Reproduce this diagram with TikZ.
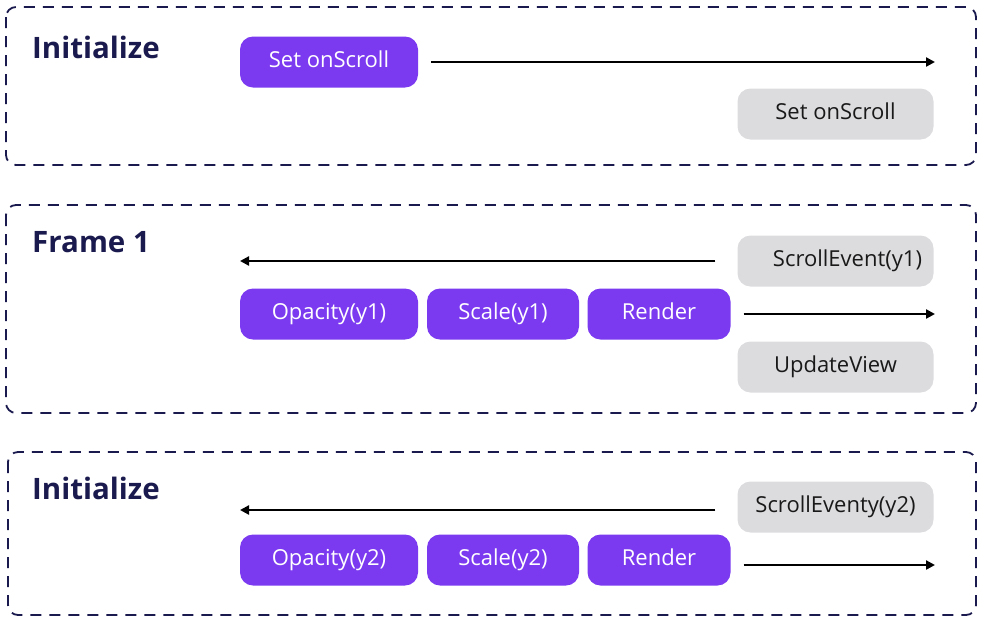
\documentclass[tikz,border=0pt]{standalone}
\usepackage{fontspec}
\setmainfont{Open Sans}
\usetikzlibrary{arrows.meta}
\definecolor{pur}{HTML}{7B3AF0}
\definecolor{gry}{HTML}{DCDCDF}
\definecolor{navy}{HTML}{1B1A4E}
\tikzset{
  pbox/.style={fill=pur, rounded corners=13pt, text=white, minimum height=51pt, inner sep=0pt, text height=16pt, text depth=5pt, font=\fontsize{22}{26}\selectfont},
  gbox/.style={fill=gry, rounded corners=13pt, text=black!90, minimum height=51pt, minimum width=196pt, inner sep=0pt, text height=16pt, text depth=5pt, font=\fontsize{22}{26}\selectfont},
  frame/.style={draw=navy, line width=1.8pt, dash pattern=on 11pt off 8pt, rounded corners=10pt},
  ttl/.style={anchor=base west, text=navy, inner sep=0pt, font=\fontsize{29.5}{34}\selectfont\bfseries},
  arr/.style={line width=2.4pt, -{Triangle[length=9pt,width=9pt]}}
}
\begin{document}
\begin{tikzpicture}[x=1pt,y=-1pt]
\useasboundingbox (0,0) rectangle (992,625);
% frames
\draw[frame] (6,7) rectangle (976,165);
\draw[frame] (6,205) rectangle (976,413);
\draw[frame] (8,452) rectangle (976,615);
% titles
\node[ttl] (t1) at (32,58) {Initialize};
\node[ttl] (t2) at (32,252) {Frame 1};
\node[ttl] (t3) at (32,499) {Initialize};
% section 1
\node[pbox, minimum width=178pt] (s1) at (329,62) {Set onScroll};
\node[gbox] (g1) at (835.5,114) {Set onScroll};
\coordinate (e1) at (935,62);
\draw[arr] (s1.east) ++(13,0) coordinate (b1) -- (e1);
% section 2
\node[gbox] (g2) at (835.5,261) {\hspace*{24pt}ScrollEvent(y1)};
\node[pbox, minimum width=178pt] (o1) at (329,314) {Opacity(y1)};
\node[pbox, minimum width=152pt] (c1) at (503,314) {Scale(y1)};
\node[pbox, minimum width=143pt] (r1) at (659,314) {Render};
\node[gbox] (u1) at (835.5,367) {UpdateView};
\coordinate (l2) at (240,261);
\draw[arr] (g2.west) ++(-22,0) -- (l2);
\coordinate (e2) at (935,314);
\draw[arr] (r1.east) ++(13,0) -- (e2);
% section 3
\node[gbox] (g3) at (835.5,507) {ScrollEventy(y2)};
\node[pbox, minimum width=178pt] (o2) at (329,560) {Opacity(y2)};
\node[pbox, minimum width=152pt] (c2) at (503,560) {Scale(y2)};
\node[pbox, minimum width=143pt] (r2) at (659,560) {Render};
\coordinate (l3) at (240,510);
\draw[arr] (g3.west) ++(-22,3) -- (l3);
\coordinate (e3) at (935,565);
\draw[arr] (r2.east) ++(13,5) -- (e3);
\end{tikzpicture}
\end{document}
